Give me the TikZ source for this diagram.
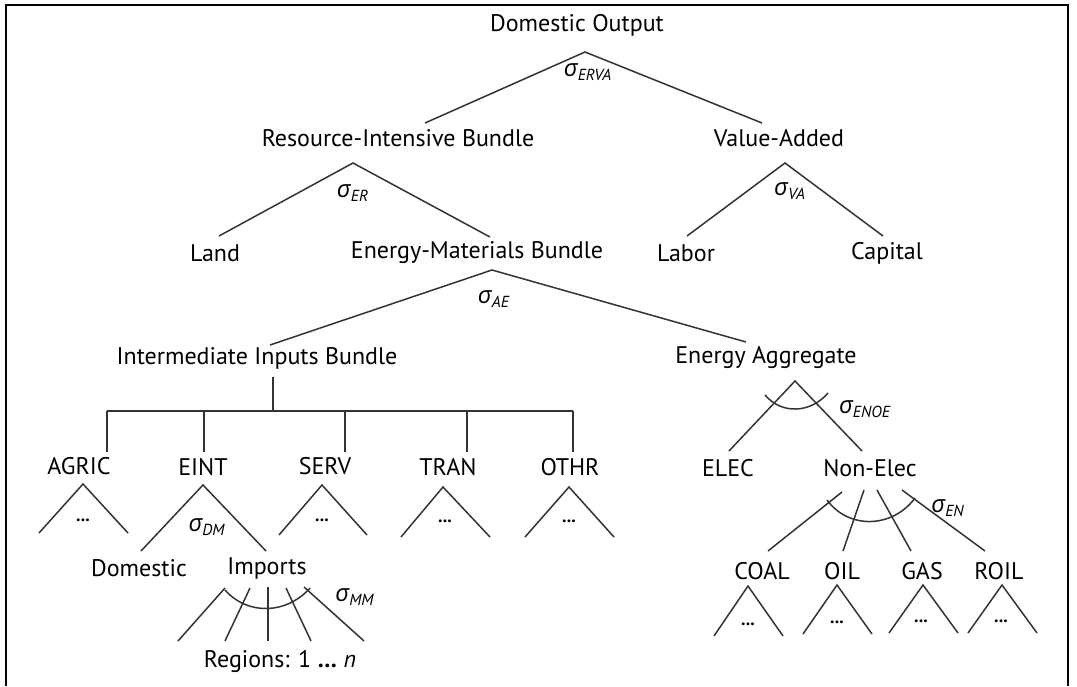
\documentclass[tikz,border=0pt]{standalone}
\usepackage{fontspec}
\setmainfont{PT Sans}
\newfontfamily\grkfont{Open Sans}
\newcommand{\sig}[1]{{\grkfont\itshape σ}\textsubscript{\itshape #1}}
\tikzset{
  lbl/.style={inner sep=0pt, font=\fontsize{12}{14}\selectfont},
  siglbl/.style={inner sep=0pt, font=\fontsize{12}{14}\selectfont},
  dotlbl/.style={inner sep=0pt, font=\fontsize{9}{10}\selectfont\bfseries},
  edge/.style={line width=0.75pt, draw=black!80},
}
\begin{document}
\begin{tikzpicture}[x=0.5pt,y=-0.5pt]
		\useasboundingbox (0,0) rectangle (1077,686);
		\draw[line width=1.2pt] (6,686) -- (6,5) -- (1068,5) -- (1068,686);
		\node[lbl] (out) at (577,25) {Domestic Output};
		\node[lbl] (rib) at (398,138) {Resource-Intensive Bundle};
		\node[lbl] (va) at (779,138) {Value-Added};
		\node[lbl] (land) at (215,253) {Land};
		\node[lbl] (emb) at (477,253) {Energy-Materials Bundle};
		\node[lbl] (labor) at (686,253) {Labor};
		\node[lbl] (capital) at (887,253) {Capital};
		\node[lbl] (iib) at (257,358) {Intermediate Inputs Bundle};
		\node[lbl] (ea) at (766,358) {Energy Aggregate};
		\node[lbl] (agric) at (79,466) {AGRIC};
		\node[lbl] (eint) at (203,467) {EINT};
		\node[lbl] (serv) at (325,466) {SERV};
		\node[lbl] (tran) at (448,467) {TRAN};
		\node[lbl] (othr) at (570,467) {OTHR};
		\node[lbl] (dom) at (139,568) {Domestic};
		\node[lbl] (imp) at (267,568) {Imports};
		\node[lbl] (reg) at (280,661) {Regions: 1 \textbf{\ldots} \textit{n}};
		\node[lbl] (elec) at (728,468) {ELEC};
		\node[lbl] (nonel) at (870,468) {Non-Elec};
		\node[lbl] (coal) at (762,571) {COAL};
		\node[lbl] (oil) at (842,571) {OIL};
		\node[lbl] (gas) at (922,571) {GAS};
		\node[lbl] (roil) at (999,571) {ROIL};
		\node[siglbl] (s-erva) at (588,72) {\sig{ERVA}};
		\node[siglbl] (s-er) at (353,193) {\sig{ER}};
		\node[siglbl] (s-va) at (790,191) {\sig{VA}};
		\node[siglbl] (s-ae) at (494,299) {\sig{AE}};
		\node[siglbl] (s-dm) at (207,527) {\sig{DM}};
		\node[siglbl] (s-mm) at (355,597) {\sig{MM}};
		\node[siglbl] (s-enoe) at (865,409) {\sig{ENOE}};
		\node[siglbl] (s-en) at (948,508) {\sig{EN}};
		\node[dotlbl] (d-agric) at (83,520) {...};
		\node[dotlbl] (d-serv) at (322,520) {...};
		\node[dotlbl] (d-tran) at (445,521) {...};
		\node[dotlbl] (d-othr) at (569,521) {...};
		\node[dotlbl] (d-coal) at (748,624) {...};
		\node[dotlbl] (d-oil) at (837,622) {...};
		\node[dotlbl] (d-gas) at (921,621) {...};
		\node[dotlbl] (d-roil) at (1001,621) {...};
		\coordinate (a) at (585,52);
		\coordinate (a1) at (425,123);
		\coordinate (a2) at (762,123);
		\coordinate (b) at (353,163);
		\coordinate (b1) at (219,236);
		\coordinate (b2) at (490,237);
		\coordinate (c) at (785,163);
		\coordinate (c1) at (687,236);
		\coordinate (c2) at (883,236);
		\coordinate (d) at (492,270);
		\coordinate (d1) at (270,345);
		\coordinate (d2) at (746,342);
		\coordinate (e) at (273,377);
		\coordinate (e0) at (273,411);
		\coordinate (e1) at (107,411);
		\coordinate (e2) at (204,411);
		\coordinate (e3) at (345,411);
		\coordinate (e4) at (467,411);
		\coordinate (e5) at (573,411);
		\draw[edge] (a1) to (a) to (a2);
		\draw[edge] (b1) to (b) to (b2);
		\draw[edge] (c1) to (c) to (c2);
		\draw[edge] (d1) to (d) to (d2);
		\draw[edge] (e) to (e0);
		\draw[edge] (e1) to (e5);
		\draw[edge] (e1) to (107,452);
		\draw[edge] (e2) to (204,452);
		\draw[edge] (e3) to (345,452);
		\draw[edge] (e4) to (467,452);
		\draw[edge] (e5) to (573,452);
		\draw[edge] (39,533) to (83,484) to (128,533);
		\draw[edge] (141,551) to (203,485) to (266,551);
		\draw[edge] (279,535) to (322,485) to (367,535);
		\draw[edge] (401,537) to (443,487) to (490,537);
		\draw[edge] (525,537) to (569,487) to (614,537);
		\draw[edge] (225,588) to (178,641);
		\draw[edge] (250,588) to (225,641);
		\draw[edge] (268,587) to (268,641);
		\draw[edge] (286,588) to (311,641);
		\draw[edge] (304,587) to (364,641);
		\draw[edge] (225,590) .. controls (248,616) and (287,614) .. (310,588);
		\draw[edge] (729,451) to (795,381) to (862,451);
		\draw[edge] (765,395) .. controls (782,415) and (811,413) .. (828,393);
		\draw[edge] (842,492) to (768,551);
		\draw[edge] (864,490) to (843,551);
		\draw[edge] (877,490) to (911,551);
		\draw[edge] (902,490) to (985,551);
		\draw[edge] (827,500) .. controls (849,530) and (893,528) .. (915,498);
		\draw[edge] (714,636) to (748,586) to (783,636);
		\draw[edge] (803,634) to (837,585) to (872,634);
		\draw[edge] (889,633) to (923,585) to (958,633);
		\draw[edge] (968,633) to (1002,585) to (1037,633);
\end{tikzpicture}
\end{document}
